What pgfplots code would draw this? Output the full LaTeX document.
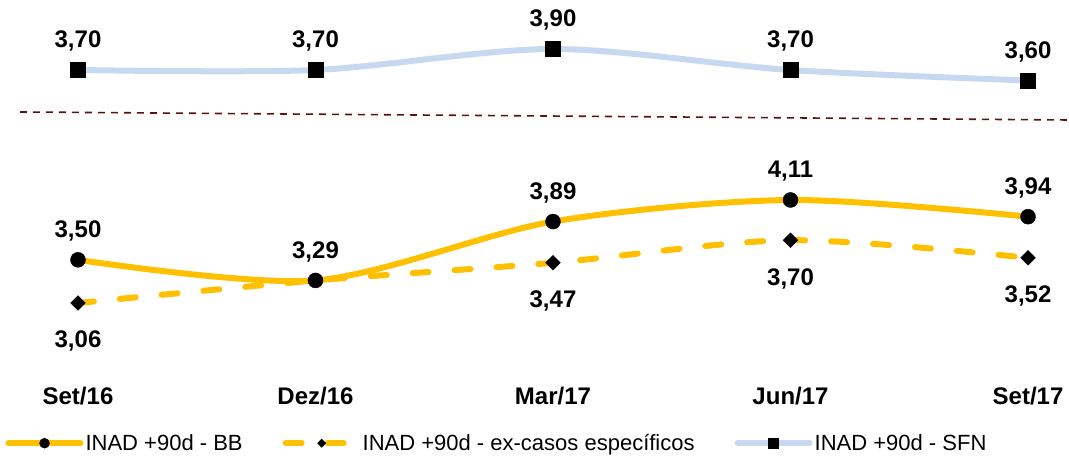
\documentclass[border=0pt]{standalone}
\usepackage{pgfplots}
\pgfplotsset{compat=1.18}
\usepackage{pgfplotstable}
\usepackage{fontspec}
\setmainfont{Liberation Sans}
\definecolor{bbyellow}{HTML}{FFC000}
\definecolor{sfnblue}{HTML}{C6D9F0}
\definecolor{sepred}{HTML}{5A1212}

\pgfplotstableread{
x y lab
0 3.50 {3,50}
1 3.29 {3,29}
2 3.89 {3,89}
3 4.11 {4,11}
4 3.94 {3,94}
}\bbdata
\pgfplotstableread{
x y lab
0 3.06 {3,06}
1 3.29 {}
2 3.47 {3,47}
3 3.70 {3,70}
4 3.52 {3,52}
}\exdata
\pgfplotstableread{
x y lab
0 3.70 {3,70}
1 3.70 {3,70}
2 3.90 {3,90}
3 3.70 {3,70}
4 3.60 {3,60}
}\sfndata

\tikzset{lbl/.style={font=\bfseries\fontsize{24}{28}\selectfont}}
\pgfplotsset{
  common/.style={
    scale only axis, width=1069pt, height=457pt,
    at={(0pt,0pt)}, anchor=south west,
    xmin=-0.3284, xmax=4.1726, clip=false,
  },
}

\begin{document}
\begin{tikzpicture}
% upper panel (SFN)
\begin{axis}[common, hide axis, ymin=0.0143, ymax=4.3667]
\addplot[sfnblue, line width=6pt, smooth, mark=square*, mark size=7.5pt,
  mark options={black, solid, line width=0.4pt},
  nodes near coords, point meta=explicit symbolic,
  every node near coord/.append style={lbl, black, anchor=base, yshift=22pt}]
  table[x=x, y=y, meta=lab] {\sfndata};
\end{axis}
% lower panel
\begin{axis}[common, ymin=1.490, ymax=6.149,
  axis x line*=bottom, axis y line=none,
  x axis line style={draw=none},
  major tick length=0pt, ytick=\empty,
  xtick={0,1,2,3,4},
  xticklabels={Set/16,Dez/16,Mar/17,Jun/17,Set/17},
  xticklabel style={lbl, anchor=base, yshift=52pt},
  legend columns=3,
  legend image code/.code={\draw[mark repeat=2,mark phase=2,#1] plot coordinates {(0pt,0pt) (36pt,0pt) (72pt,0pt)};},
  legend style={draw=none, fill=none, inner sep=0pt,
    at={(rel axis cs:0.005,0.006)}, anchor=south west,
    font=\fontsize{22}{26}\selectfont,
    /tikz/every odd column/.append style={column sep=0pt},
    /tikz/every even column/.append style={column sep=38pt}},
  legend cell align=left,
]
\draw[sepred, line width=1.6pt, dash pattern=on 7pt off 6pt]
  (rel axis cs:0.0187,0.755) -- (rel axis cs:1,0.7374);
\addplot[bbyellow, line width=6pt, smooth, mark=*, mark size=7.5pt,
  mark options={black, solid, line width=0.4pt}, forget plot,
  nodes near coords, point meta=explicit symbolic,
  every node near coord/.append style={lbl, black, anchor=base, yshift=22pt}]
  table[x=x, y=y, meta=lab] {\bbdata};
\addplot[bbyellow, line width=6pt, smooth, line cap=round,
  dash pattern=on 16pt off 26pt, mark=square*, mark size=5.2pt,
  mark options={black, solid, rotate=45, line width=0.4pt}, forget plot,
  nodes near coords, point meta=explicit symbolic,
  every node near coord/.append style={lbl, black, anchor=base, yshift=-45pt}]
  table[x=x, y=y, meta=lab] {\exdata};
\addlegendimage{bbyellow, line width=6pt, line cap=round, mark=*, mark size=5pt, mark options={black, solid, line width=0.4pt}}
\addlegendentry{INAD +90d - BB}
\addlegendimage{bbyellow, line width=6pt, line cap=round, dash pattern=on 16pt off 26pt, mark=square*, mark size=2.9pt, mark options={black, solid, rotate=45, line width=0.4pt}}
\addlegendentry{INAD +90d - ex-casos específicos}
\addlegendimage{sfnblue, line width=6pt, line cap=round, mark=square*, mark size=5pt, mark options={black, solid, line width=0.4pt}}
\addlegendentry{INAD +90d - SFN}
\end{axis}
\pgfresetboundingbox
\path[use as bounding box] (0pt,0pt) rectangle (1069pt,457pt);
\end{tikzpicture}
\end{document}
